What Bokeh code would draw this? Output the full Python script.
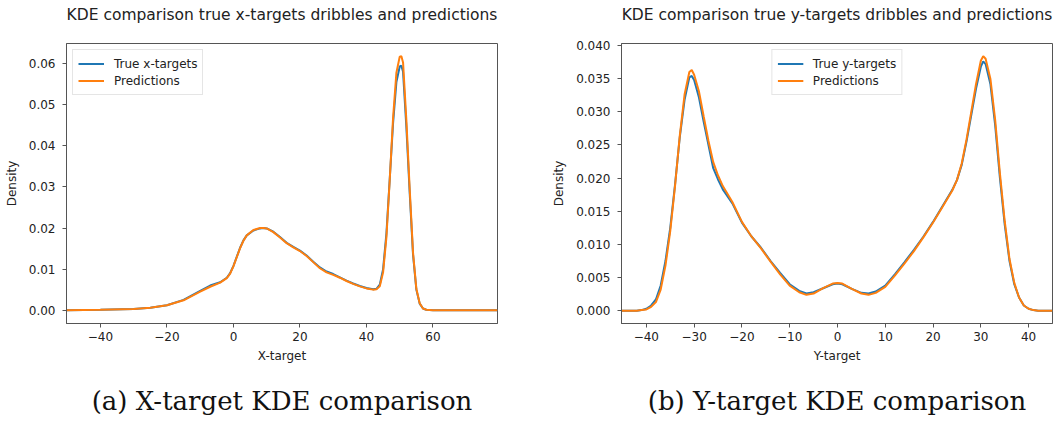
from bokeh.plotting import figure
from bokeh.layouts import row
from bokeh.models import (Range1d, FixedTicker, LinearAxis, Legend, LegendItem,
                          NumeralTickFormatter)
from bokeh.embed import file_html
from bokeh.resources import INLINE

# ---------------- data ----------------
x_left = [-50.2, -40, -30, -25, -20, -15, -10, -7, -4, -2, -1, 0, 1, 2, 3, 4, 6, 8, 9, 10,
          12, 14, 16, 18, 20, 22, 24, 26, 28, 30, 32, 34, 36, 38, 40, 42, 43, 44, 45, 46,
          47, 48, 49, 50, 50.5, 51, 52, 53, 54, 55, 56, 57, 58, 60, 79.4]
true_left = [0, 0.0001, 0.0003, 0.0006, 0.0012, 0.0025, 0.0047, 0.0060, 0.0068, 0.0079,
             0.0090, 0.0108, 0.0130, 0.0152, 0.0170, 0.0182, 0.0194, 0.0199, 0.0200, 0.0199,
             0.0191, 0.0178, 0.0164, 0.0154, 0.0145, 0.0133, 0.0118, 0.0104, 0.0094, 0.0088,
             0.0080, 0.0072, 0.0065, 0.0059, 0.0054, 0.0051, 0.0052, 0.0062, 0.0100, 0.0187,
             0.0320, 0.0455, 0.0555, 0.0593, 0.0595, 0.0580, 0.0445, 0.0285, 0.0135, 0.0050,
             0.0016, 0.0004, 0.0001, 0, 0]
pred_left = [0, 0.0001, 0.0003, 0.0006, 0.0012, 0.0024, 0.0045, 0.0057, 0.0067, 0.0078,
             0.0089, 0.0107, 0.0129, 0.0151, 0.0169, 0.0182, 0.0195, 0.0200, 0.0200, 0.0199,
             0.0190, 0.0177, 0.0163, 0.0153, 0.0144, 0.0132, 0.0117, 0.0102, 0.0092, 0.0086,
             0.0079, 0.0071, 0.0064, 0.0058, 0.0053, 0.0050, 0.0051, 0.0058, 0.0092, 0.0178,
             0.0318, 0.0468, 0.0578, 0.0617, 0.0618, 0.0603, 0.0462, 0.0295, 0.0140, 0.0052,
             0.0017, 0.0004, 0.0001, 0, 0]

x_right = [-45.2, -42, -41, -40, -39, -38, -37, -36, -35, -34, -33, -32, -31, -30.5, -30,
           -29, -28, -27, -26, -25, -24, -22, -20, -18, -16, -14, -12, -10, -8, -6.5, -5,
           -3, -1, 0, 1, 3, 5, 6.5, 8, 10, 12, 14, 16, 18, 20, 22, 24, 25, 26, 27, 28, 29,
           30, 30.5, 31, 32, 33, 34, 35, 36, 37, 38, 39, 40, 41, 42, 45]
true_right = [0, 0, 0.0001, 0.0003, 0.0008, 0.0017, 0.0038, 0.0075, 0.0125, 0.0190,
              0.0262, 0.0318, 0.0352, 0.0354, 0.0348, 0.0322, 0.0285, 0.0250, 0.0215, 0.0198,
              0.0183, 0.0162, 0.0133, 0.0112, 0.0095, 0.0075, 0.0057, 0.0040, 0.0030, 0.0026,
              0.0028, 0.0034, 0.0040, 0.0041, 0.0040, 0.0033, 0.0027, 0.0026, 0.0029, 0.0038,
              0.0055, 0.0073, 0.0092, 0.0112, 0.0134, 0.0158, 0.0182, 0.0197, 0.0220, 0.0255,
              0.0295, 0.0335, 0.0368, 0.0376, 0.0372, 0.0342, 0.0280, 0.0200, 0.0130, 0.0075,
              0.0040, 0.0020, 0.0008, 0.0003, 0.0001, 0, 0]
pred_right = [0, 0, 0.0001, 0.0002, 0.0006, 0.0013, 0.0032, 0.0068, 0.0120, 0.0188,
              0.0264, 0.0326, 0.0360, 0.0363, 0.0356, 0.0331, 0.0293, 0.0256, 0.0224, 0.0204,
              0.0188, 0.0164, 0.0134, 0.0112, 0.0094, 0.0074, 0.0055, 0.0038, 0.0028, 0.0024,
              0.0026, 0.0034, 0.0041, 0.0042, 0.0041, 0.0033, 0.0026, 0.0024, 0.0027, 0.0036,
              0.0053, 0.0071, 0.0090, 0.0111, 0.0133, 0.0157, 0.0181, 0.0197, 0.0222, 0.0258,
              0.0300, 0.0342, 0.0377, 0.0384, 0.0380, 0.0350, 0.0288, 0.0207, 0.0135, 0.0078,
              0.0042, 0.0020, 0.0008, 0.0003, 0.0001, 0, 0]

xticks_left = [-40, -20, 0, 20, 40, 60]
xlabels_left = ["\u221240", "\u221220", "0", "20", "40", "60"]
yticks_left = [0.00, 0.01, 0.02, 0.03, 0.04, 0.05, 0.06]

xticks_right = [-40, -30, -20, -10, 0, 10, 20, 30, 40]
xlabels_right = ["\u221240", "\u221230", "\u221220", "\u221210", "0", "10", "20", "30", "40"]
yticks_right = [0.000, 0.005, 0.010, 0.015, 0.020, 0.025, 0.030, 0.035, 0.040]

titles = ["KDE comparison true x-targets dribbles and predictions",
          "KDE comparison true y-targets dribbles and predictions"]
captions = ["(a) X-target KDE comparison", "(b) Y-target KDE comparison"]
xlabels = ["X-target", "Y-target"]
legend_labels = [["True x-targets", "Predictions"], ["True y-targets", "Predictions"]]

BLUE = "#1f77b4"
ORANGE = "#ff7f0e"
SPINE = "#555555"
TXT = "#222222"


def text_axis(text, font, size, color, standoff):
    """An axis without ticks or line that only carries a label (used as title/caption)."""
    ax = LinearAxis(ticker=FixedTicker(ticks=[]), axis_label=text)
    ax.axis_line_color = None
    ax.major_tick_line_color = None
    ax.minor_tick_line_color = None
    ax.major_tick_out = 0
    ax.major_tick_in = 0
    ax.minor_tick_out = 0
    ax.major_label_standoff = 0
    ax.axis_label_standoff = standoff
    ax.axis_label_text_font = font
    ax.axis_label_text_font_size = size
    ax.axis_label_text_font_style = "normal"
    ax.axis_label_text_color = color
    return ax


def make_plot(xs, ys_true, ys_pred, xr, yr, xt, xtl, yt, yfmt, title, caption, xlabel,
              labels, legend_loc, border_left, border_right):
    p = figure(width=527, height=423, output_backend="svg", toolbar_location=None,
               x_range=Range1d(*xr), y_range=Range1d(*yr),
               min_border_left=border_left, min_border_right=border_right,
               min_border_top=43, min_border_bottom=100)

    p.grid.visible = False
    p.outline_line_color = SPINE
    p.outline_line_width = 1
    p.background_fill_color = "white"
    p.border_fill_color = "white"

    xa = p.xaxis[0]
    ya = p.yaxis[0]
    for ax in (xa, ya):
        ax.axis_line_color = SPINE
        ax.major_tick_line_color = SPINE
        ax.minor_tick_line_color = None
        ax.major_tick_out = 4
        ax.major_tick_in = 0
        ax.major_label_text_font = "DejaVu Sans"
        ax.major_label_text_font_size = "12px"
        ax.major_label_text_color = TXT
        ax.axis_label_text_font = "DejaVu Sans"
        ax.axis_label_text_font_size = "12px"
        ax.axis_label_text_font_style = "normal"
        ax.axis_label_text_color = TXT

    xa.ticker = FixedTicker(ticks=xt)
    xa.major_label_overrides = {t: l for t, l in zip(xt, xtl)}
    xa.major_label_standoff = 4
    xa.axis_label = xlabel
    xa.axis_label_standoff = 5

    ya.ticker = FixedTicker(ticks=yt)
    ya.formatter = NumeralTickFormatter(format=yfmt)
    ya.major_label_standoff = 7
    ya.axis_label = "Density"
    ya.axis_label_standoff = 7

    r1 = p.line(xs, ys_true, line_color=BLUE, line_width=2)
    r2 = p.line(xs, ys_pred, line_color=ORANGE, line_width=2)

    leg = Legend(items=[LegendItem(label=labels[0], renderers=[r1]),
                        LegendItem(label=labels[1], renderers=[r2])],
                 location=legend_loc)
    leg.glyph_width = 26
    leg.glyph_height = 17
    leg.label_height = 17
    leg.spacing = 0
    leg.padding = 5
    leg.margin = 6
    leg.label_standoff = 10
    leg.label_text_font = "DejaVu Sans"
    leg.label_text_font_size = "12px"
    leg.label_text_color = TXT
    leg.border_line_color = "#cccccc"
    leg.background_fill_alpha = 0.8
    p.add_layout(leg)

    # title above the frame and caption under the x axis
    p.add_layout(text_axis(title, "DejaVu Sans", "15.5px", TXT, 20), "above")
    p.add_layout(text_axis(caption, "DejaVu Serif", "26px", "#111111", 20), "below")
    return p


p1 = make_plot(x_left, true_left, pred_left, (-50.2, 79.4), (-0.00324, 0.0649),
               xticks_left, xlabels_left, yticks_left, "0.00", titles[0], captions[0],
               xlabels[0], legend_labels[0], "top_left", 66, 30)
p2 = make_plot(x_right, true_right, pred_right, (-45.2, 45.0), (-0.00192, 0.0403),
               xticks_right, xlabels_right, yticks_right, "0.000", titles[1], captions[1],
               xlabels[1], legend_labels[1], "top_center", 94, 2)

layout = row(p1, p2)
open("out.html", "w").write(file_html(layout, INLINE))
